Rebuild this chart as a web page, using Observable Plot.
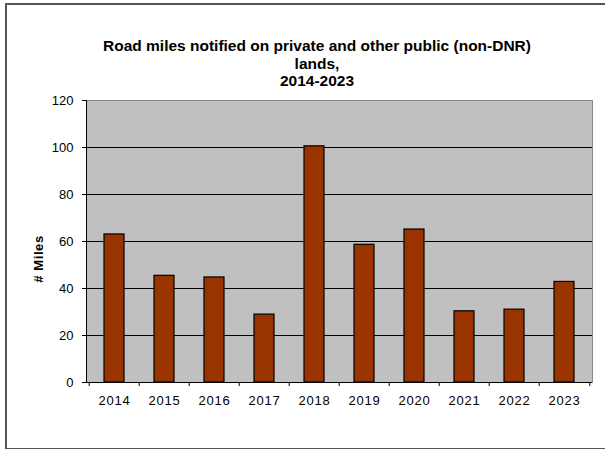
<!DOCTYPE html>
<html>
<head>
<meta charset="utf-8">
<script src="https://cdn.jsdelivr.net/npm/d3@7"></script>
<script src="https://cdn.jsdelivr.net/npm/@observablehq/plot@0.6"></script>
<style>
  html, body { margin: 0; padding: 0; background: #fff; }
  #wrap { position: relative; width: 605px; height: 449px; overflow: hidden; font-family: "Liberation Sans", Arial, sans-serif; }
  #border { position: absolute; left: 5px; top: 3px; width: 640px; height: 443px; border: 2px solid #555; box-sizing: content-box; }
  #title { position: absolute; left: 17px; width: 600px; top: 37px; text-align: center; font-weight: bold; font-size: 15.5px; line-height: 17.5px; color: #000; }
  #ylab { position: absolute; left: 38px; top: 259px; transform: translate(-50%, -50%) rotate(-90deg); font-weight: bold; font-size: 13px; letter-spacing: 0.6px; white-space: nowrap; color: #000; }
  #chart { position: absolute; left: 0; top: 0; }
  #chart svg g[aria-label="x-axis tick label"] text { letter-spacing: 0.8px; }
</style>
</head>
<body>
<div id="wrap">
  <div id="border"></div>
  <div id="chart"></div>
  <div id="title">Road miles notified on private and other public (non-DNR)<br>lands,<br>2014-2023</div>
  <div id="ylab"># Miles</div>
</div>
<script>
const years = ["2014","2015","2016","2017","2018","2019","2020","2021","2022","2023"];
const miles = [63.0, 45.4, 44.7, 28.9, 100.5, 58.6, 65.1, 30.3, 31.0, 42.8];
const yTicks = [0, 20, 40, 60, 80, 100, 120];
const gridTicks = [20, 40, 60, 80, 100];

const data = years.map((y, i) => ({year: y, value: miles[i]}));

const W = 605, mL = 86, mR = 13;
const step = (W - mL - mR) / years.length;

const plot = Plot.plot({
  width: W,
  height: 449,
  marginLeft: mL,
  marginRight: mR,
  marginTop: 100,
  marginBottom: 67,
  style: {background: "transparent", fontFamily: "'Liberation Sans', Arial, sans-serif", fontSize: "13px", color: "#000"},
  x: {domain: years, paddingInner: 0.6, paddingOuter: 0.3, label: null},
  y: {domain: [0, 120], label: null},
  marks: [
    Plot.frame({fill: "#c0c0c0", stroke: "#8a8a8a"}),
    Plot.ruleY(gridTicks, {stroke: "#000", strokeWidth: 1}),
    Plot.rectY(data, {x: "year", y: "value", fill: "#993300", stroke: "#000", strokeWidth: 1.2}),
    Plot.ruleY([0], {stroke: "#000", strokeWidth: 1}),
    Plot.frame({anchor: "left", stroke: "#000"}),
    Plot.axisY({ticks: yTicks, tickSize: 4, tickPadding: 9, label: null, stroke: "#000", fill: "#000", fontSize: 13}),
    Plot.axisX({tickSize: 0, tickPadding: 13, label: null, fill: "#000", fontSize: 13}),
    Plot.axisX({tickSize: 4, text: null, dx: -step / 2, label: null, stroke: "#000"}),
    Plot.axisX({ticks: [years[years.length - 1]], tickSize: 4, text: null, dx: step / 2, label: null, stroke: "#000"})
  ]
});
document.getElementById("chart").appendChild(plot);
</script>
</body>
</html>
